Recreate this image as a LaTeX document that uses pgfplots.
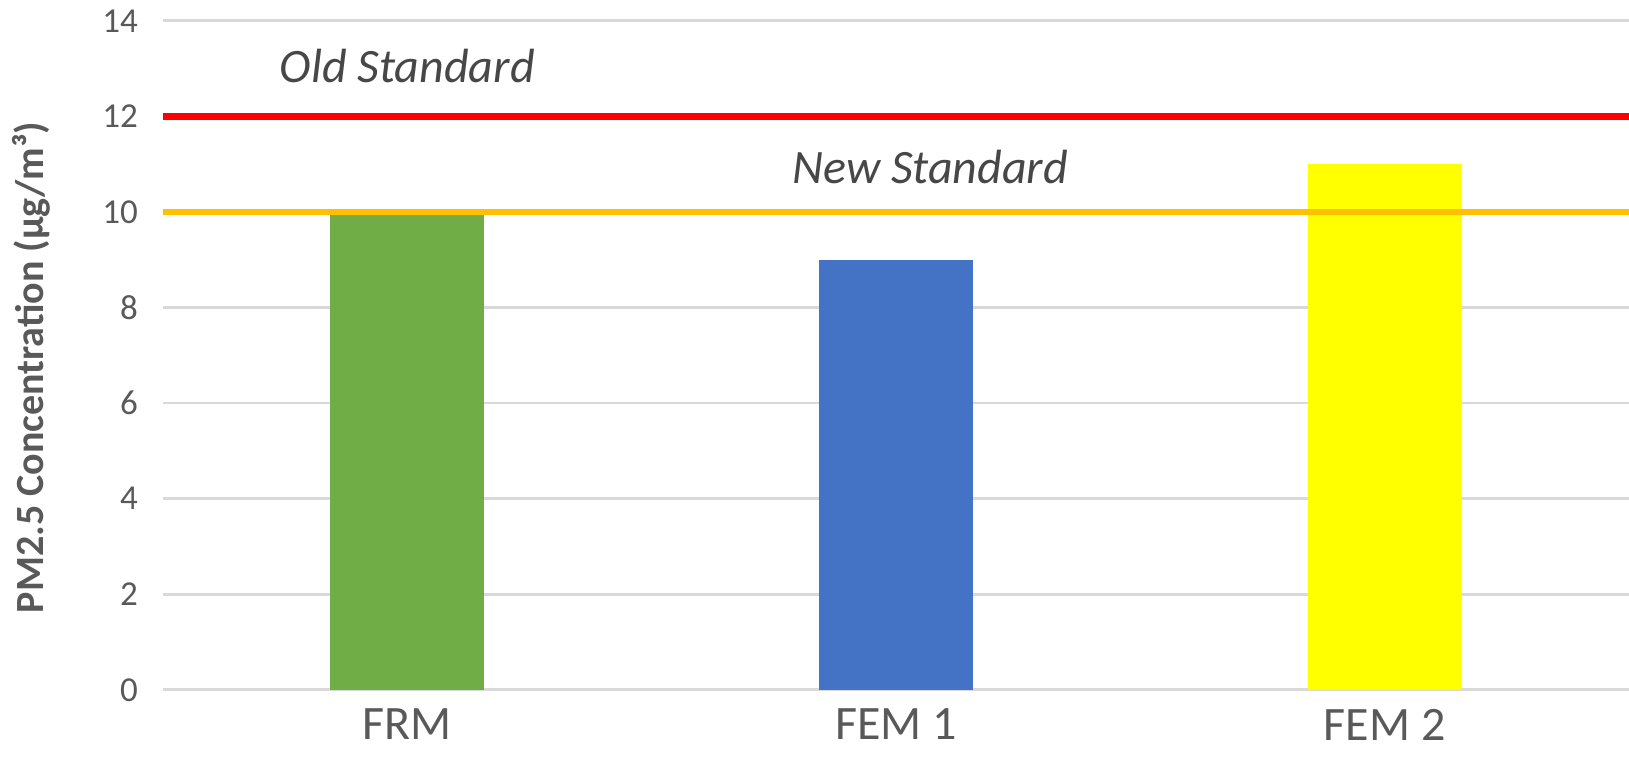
\documentclass[border=0pt]{standalone}
\usepackage{fontspec}
\setmainfont{Carlito}
\usepackage{pgfplots}
\pgfplotsset{compat=1.18}

\definecolor{txtgray}{HTML}{595959}
\definecolor{gridgray}{HTML}{D9D9D9}
\definecolor{frmgreen}{HTML}{70AD47}
\definecolor{femblue}{HTML}{4472C4}
\definecolor{femyellow}{HTML}{FFFF00}
\definecolor{oldred}{HTML}{FF0000}
\definecolor{neworange}{HTML}{FFC000}

\begin{document}
\begin{tikzpicture}
\begin{axis}[
    scale only axis,
    width=733pt, height=334.5pt,
    xmin=-0.5, xmax=2.5,
    ymin=0, ymax=14,
    axis line style={draw=none},
    ytick={0,2,...,14},
    xtick={0,1,2},
    xticklabels={FRM, FEM 1, FEM 2},
    major tick length=0pt,
    ymajorgrids,
    grid style={gridgray, line width=1.3pt},
    /pgf/number format/assume math mode=true,
    yticklabel style={font=\fontsize{17.5}{20}\selectfont, text=txtgray, xshift=-9pt},
    xticklabel style={font=\fontsize{24}{28}\selectfont, text=txtgray, yshift=-6pt},
    ylabel={\textbf{PM2.5 Concentration (µg/m³)}},
    ylabel style={font=\fontsize{20}{24}\selectfont, text=txtgray, at={(rel axis cs:-0.09,0.482)}, anchor=center},
    ybar, bar width=77pt,
    clip=false,
]
% measured concentrations
\addplot[fill=frmgreen, draw=none, bar shift=0pt] coordinates {(0,10)};
\addplot[fill=femblue, draw=none, bar shift=0pt] coordinates {(1,9)};
\addplot[fill=femyellow, draw=none, bar shift=0pt] coordinates {(2,11)};
% annual standards
\addplot[sharp plot, oldred, line width=3.3pt] coordinates {(-0.5,12) (2.5,12)};
\addplot[sharp plot, neworange, line width=3.3pt] coordinates {(-0.5,10) (2.5,10)};
\node[font=\fontsize{24}{28}\selectfont\itshape, text=txtgray!80!black] at (axis cs:0,13.05) {Old Standard};
\node[font=\fontsize{24}{28}\selectfont\itshape, text=txtgray!80!black] at (axis cs:1.07,10.95) {New Standard};
\coordinate (ll) at (rel axis cs:0,0);
\coordinate (ur) at (rel axis cs:1,1);
\end{axis}
\pgfresetboundingbox
\path ([xshift=-81.5pt,yshift=-42.5pt]ll) rectangle ([yshift=10.4pt]ur);
\end{tikzpicture}
\end{document}
